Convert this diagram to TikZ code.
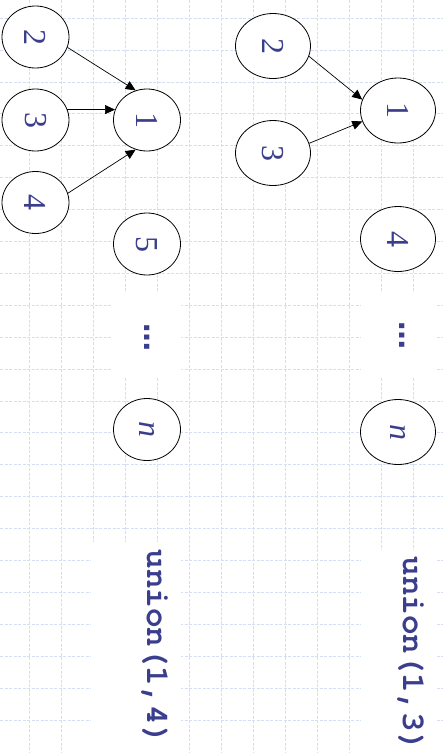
\documentclass[tikz,border=0pt]{standalone}
\usepackage{fontspec}
\setmainfont{Liberation Serif}
\newfontfamily\monofam{TeX Gyre Cursor}
\newfontfamily\dotsfont{DejaVu Sans}
\usetikzlibrary{shapes.geometric,arrows.meta}
\definecolor{txtblue}{RGB}{58,62,140}
\definecolor{gridblue}{RGB}{212,222,244}
\newcommand{\rotlbl}[1]{\rotatebox{-90}{#1}}
\begin{document}
\begin{tikzpicture}[x=1pt,y=-1pt,
  vtx/.style={ellipse, draw=black, line width=0.8pt, fill=white, inner sep=0pt,
    text=txtblue, font=\fontsize{32}{32}\selectfont},
  lvtx/.style={vtx, minimum width=67pt, minimum height=62pt},
  rvtx/.style={vtx, minimum width=75pt, minimum height=65pt},
  arr/.style={-{Triangle[length=10pt,width=9pt]}, line width=0.7pt, draw=black},
  gridline/.style={draw=gridblue, line width=0.6pt, dash pattern=on 3pt off 1.5pt},
  dotsnode/.style={text=txtblue, font=\dotsfont\bfseries\fontsize{28}{28}\selectfont, inner sep=0pt},
  cmd/.style={text=txtblue, font=\monofam\bfseries\fontsize{32.5}{32.5}\selectfont, inner sep=0pt}]
\useasboundingbox (0,0) rectangle (443,753);
\fill[white] (0,0) rectangle (443,753);
% grid
\foreach \i in {0,...,12} \draw[gridline] (29.5+32*\i,0) -- (29.5+32*\i,753);
\foreach \j in {0,...,22} \draw[gridline] (0,18+31.9*\j) -- (443,18+31.9*\j);
% white patches
\fill[white] (113,293) rectangle (181,378);
\fill[white] (361,293) rectangle (437,378);
\fill[white] (91,542) rectangle (181,753);
\fill[white] (361,550) rectangle (437,753);
% left graph
\node[lvtx] (l2) at (35.5,37) {\rotlbl{2}};
\node[lvtx] (l3) at (35.5,120) {\rotlbl{3}};
\node[lvtx] (l4) at (35.5,202.5) {\rotlbl{4}};
\node[lvtx] (l1) at (147,120) {\rotlbl{1}};
\node[lvtx] (l5) at (147,244) {\rotlbl{5}};
\node[dotsnode] (ldots) at (147,337) {\rotlbl{…}};
\node[lvtx] (ln) at (147,429.5) {\rotlbl{\textit{n}}};
\node[cmd] (lcmd) at (155,647) {\rotlbl{union(1,4)}};
\draw[arr] (l2.-18) -- (l1.111);
\draw[arr] (l3.18) -- (l1.162);
\draw[arr] (l4.16) -- (l1.249);
% right graph
\node[rvtx] (r2) at (273,46) {\rotlbl{2}};
\node[rvtx] (r3) at (273,153) {\rotlbl{3}};
\node[rvtx] (r1) at (398,110.5) {\rotlbl{1}};
\node[rvtx] (r4) at (398,239) {\rotlbl{4}};
\node[dotsnode] (rdots) at (402,335) {\rotlbl{…}};
\node[rvtx] (rn) at (398,432) {\rotlbl{\textit{n}}};
\node[cmd] (rcmd) at (411,654) {\rotlbl{union(1,3)}};
\draw[arr] (r2.-16) -- (r1.163);
\draw[arr] (r3.15) -- (r1.197);
\end{tikzpicture}
\end{document}
